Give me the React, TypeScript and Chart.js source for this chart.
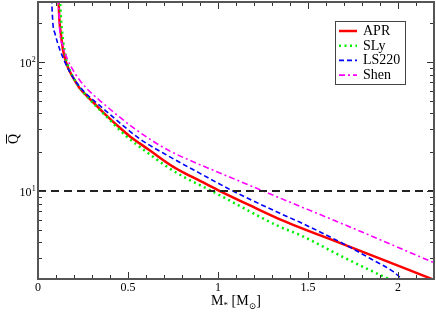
import React, { useEffect, useRef } from 'react';
import { Chart, registerables } from 'chart.js';

Chart.register(...registerables);

const SERIF = '"Liberation Serif", "DejaVu Serif", "Times New Roman", serif';

// ---- data ----
const aprM = [0.114, 0.119, 0.128, 0.139, 0.156, 0.178, 0.206, 0.233, 0.272, 0.317, 0.378, 0.456, 0.511, 0.567, 0.622, 0.733, 0.817, 0.900, 1.011, 1.178, 1.344, 1.694, 2.200];
const aprQ = [310, 212, 162, 124, 99.5, 83.6, 71.3, 62.3, 54.5, 47.2, 38.8, 30.8, 26.5, 23.3, 20.6, 16.0, 13.7, 12.0, 10.0, 7.73, 6.04, 3.88, 2.05];

const slyM = [0.122, 0.128, 0.136, 0.147, 0.161, 0.183, 0.211, 0.239, 0.278, 0.322, 0.383, 0.483, 0.567, 0.733, 0.817, 0.900, 0.965, 1.344, 1.456, 1.694, 1.960];
const slyQ = [310, 212, 162, 124, 99.5, 82.2, 70.0, 61.2, 53.1, 45.6, 37.5, 27.2, 21.9, 14.9, 12.7, 11.1, 10.0, 5.28, 4.56, 3.08, 2.04];

const ls220M = [0.0755, 0.083, 0.094, 0.122, 0.150, 0.178, 0.206, 0.233, 0.272, 0.317, 0.378, 0.456, 0.567, 0.733, 0.900, 1.083, 1.344, 1.456, 1.694, 1.861, 1.972, 2.030];
const ls220Q = [310, 197, 167, 124, 99.5, 82.9, 71.9, 64.0, 56.0, 49.4, 41.7, 33.6, 25.3, 18.4, 13.7, 10.0, 6.72, 5.72, 3.92, 2.92, 2.38, 2.03];

const shenM = [0.113, 0.122, 0.136, 0.165, 0.206, 0.233, 0.271, 0.311, 0.354, 0.409, 0.456, 0.521, 0.567, 0.650, 0.733, 0.900, 1.067, 1.244, 1.344, 1.694, 2.200];
const shenQ = [310, 167, 136, 104, 81.5, 71.9, 62.3, 55.0, 48.9, 42.1, 37.2, 31.6, 28.4, 23.8, 20.4, 16.0, 12.8, 10.1, 8.83, 5.55, 2.78];

const refM = [0, 2.2];
const refQ = [10, 10];

const seriesNames = ['APR', 'SLy', 'LS220', 'Shen'];

const xMajorTicks = [0, 0.5, 1, 1.5, 2];
const xTickLabels = ['0', '0.5', '1', '1.5', '2'];
const xMinorTicks = [0.1, 0.2, 0.3, 0.4, 0.6, 0.7, 0.8, 0.9, 1.1, 1.2, 1.3, 1.4, 1.6, 1.7, 1.8, 1.9, 2.1];
const yMajorTicks = [10, 100];
const yTickExponents = ['1', '2'];
const yMinorTicks = [3, 4, 5, 6, 7, 8, 9, 20, 30, 40, 50, 60, 70, 80, 90, 200];

const X_MIN = 0, X_MAX = 2.2, Y_MIN = 2.08, Y_MAX = 292;

// ---- styles ----
const styles = [
  { color: '#ff0000', width: 2.5, dash: [] as number[] },
  { color: '#00ee00', width: 2.5, dash: [2, 3.5] },
  { color: '#0000ff', width: 1.6, dash: [5, 3] },
  { color: '#ff00ff', width: 1.6, dash: [6, 3, 2, 3] },
];

const pts = (xs: number[], ys: number[]) => xs.map((x, i) => ({ x, y: ys[i] }));

const framePlugin = {
  id: 'xmgraceFrame',
  afterDatasetsDraw(chart: any) {
    const { ctx, chartArea: a, scales } = chart;
    const sx = scales.x, sy = scales.y;
    ctx.save();
    // ticks
    ctx.strokeStyle = '#333';
    ctx.lineWidth = 1;
    ctx.setLineDash([]);
    const vTick = (v: number, len: number) => {
      const px = Math.round(sx.getPixelForValue(v)) + 0.5;
      ctx.beginPath();
      ctx.moveTo(px, a.bottom); ctx.lineTo(px, a.bottom - len);
      ctx.moveTo(px, a.top); ctx.lineTo(px, a.top + len);
      ctx.stroke();
    };
    const hTick = (v: number, len: number) => {
      const py = Math.round(sy.getPixelForValue(v)) + 0.5;
      ctx.beginPath();
      ctx.moveTo(a.left, py); ctx.lineTo(a.left + len, py);
      ctx.moveTo(a.right, py); ctx.lineTo(a.right - len, py);
      ctx.stroke();
    };
    xMajorTicks.forEach(v => vTick(v, 7));
    xMinorTicks.forEach(v => vTick(v, 4));
    yMajorTicks.forEach(v => hTick(v, 7));
    yMinorTicks.forEach(v => hTick(v, 4));
    // frame
    ctx.strokeStyle = '#555';
    ctx.lineWidth = 2;
    ctx.strokeRect(a.left, a.top, a.right - a.left, a.bottom - a.top);

    // x tick labels
    ctx.fillStyle = '#000';
    ctx.font = `12px ${SERIF}`;
    ctx.textAlign = 'center';
    ctx.textBaseline = 'alphabetic';
    xMajorTicks.forEach((v, i) => {
      ctx.fillText(xTickLabels[i], sx.getPixelForValue(v), 291);
    });
    // y tick labels 10^n
    yMajorTicks.forEach((v, i) => {
      const py = sy.getPixelForValue(v);
      ctx.font = `12px ${SERIF}`;
      ctx.textAlign = 'right';
      ctx.fillText('10', 31.5, py + 4.6);
      ctx.font = `8px ${SERIF}`;
      ctx.textAlign = 'left';
      ctx.fillText(yTickExponents[i], 31.8, py - 0.5);
    });

    // x title: M_* [M_⊙]
    const parts: [string, number, number][] = [['M', 14, 0], ['*', 9, 3], [' [M', 14, 0], ['⊙', 9, 4], [']', 14, 0]];
    let total = 0;
    const widths = parts.map(([t, s]) => { ctx.font = `${s}px ${SERIF}`; const w = ctx.measureText(t).width; total += w; return w; });
    let cx = (a.left + a.right) / 2 - total / 2;
    ctx.textAlign = 'left';
    parts.forEach(([t, s, dy], i) => {
      ctx.font = `${s}px ${SERIF}`;
      ctx.fillText(t, cx, 305 + dy);
      cx += widths[i];
    });

    // y title: Q-bar rotated
    ctx.save();
    ctx.translate(17.5, 139);
    ctx.rotate(-Math.PI / 2);
    ctx.font = `14px ${SERIF}`;
    ctx.textAlign = 'center';
    ctx.fillText('Q', 0, 0);
    const qw = ctx.measureText('Q').width;
    ctx.strokeStyle = '#000';
    ctx.lineWidth = 1;
    ctx.beginPath();
    ctx.moveTo(-qw / 2 + 0.5, -11);
    ctx.lineTo(qw / 2 - 0.5, -11);
    ctx.stroke();
    ctx.restore();

    // legend
    const lx = 335.5, ly = 21.5, lw = 70, lh = 63;
    ctx.fillStyle = '#fff';
    ctx.fillRect(lx, ly, lw, lh);
    ctx.strokeStyle = '#444';
    ctx.lineWidth = 1;
    ctx.strokeRect(lx, ly, lw, lh);
    ctx.font = `14px ${SERIF}`;
    ctx.textAlign = 'left';
    ctx.fillStyle = '#000';
    seriesNames.forEach((name, i) => {
      const base = 35 + i * 14.7;
      const st = styles[i];
      ctx.strokeStyle = st.color;
      ctx.lineWidth = st.width;
      ctx.setLineDash(st.dash);
      ctx.beginPath();
      ctx.moveTo(339, base - 4);
      ctx.lineTo(357, base - 4);
      ctx.stroke();
      ctx.setLineDash([]);
      ctx.fillText(name, 363, base);
    });
    ctx.restore();
  },
};

export default function App() {
  const ref = useRef<HTMLCanvasElement>(null);
  useEffect(() => {
    const series = [pts(aprM, aprQ), pts(slyM, slyQ), pts(ls220M, ls220Q), pts(shenM, shenQ)];
    const datasets: any[] = [
      {
        label: 'ref',
        data: pts(refM, refQ),
        showLine: true,
        borderColor: '#222',
        borderWidth: 2,
        borderDash: [8, 5],
        pointRadius: 0,
        clip: 0,
      },
    ];
    // reverse so APR is drawn first (bottom)
    for (let i = seriesNames.length - 1; i >= 0; i--) {
      datasets.push({
        label: seriesNames[i],
        data: series[i],
        showLine: true,
        borderColor: styles[i].color,
        borderWidth: styles[i].width,
        borderDash: styles[i].dash,
        pointRadius: 0,
        cubicInterpolationMode: 'monotone',
        clip: 0,
      });
    }
    const chart = new Chart(ref.current as HTMLCanvasElement, {
      type: 'scatter',
      data: { datasets },
      options: {
        animation: false,
        responsive: false,
        maintainAspectRatio: false,
        layout: { padding: { left: 0, top: 2, right: 2, bottom: 0 } },
        scales: {
          x: {
            type: 'linear', min: X_MIN, max: X_MAX,
            grid: { display: false, drawTicks: false },
            border: { display: false },
            ticks: { display: false },
            afterFit: (s: any) => { s.height = 33; },
          },
          y: {
            type: 'logarithmic', min: Y_MIN, max: Y_MAX,
            grid: { display: false, drawTicks: false },
            border: { display: false },
            ticks: { display: false },
            afterFit: (s: any) => { s.width = 38; },
          },
        },
        plugins: { legend: { display: false }, tooltip: { enabled: false } },
      } as any,
      plugins: [framePlugin],
    });
    return () => chart.destroy();
  }, []);
  return (
    <div style={{ position: 'fixed', left: 0, top: 0, width: 436, height: 312, background: '#fff' }}>
      <canvas ref={ref} width={436} height={312} style={{ display: 'block' }} />
    </div>
  );
}
